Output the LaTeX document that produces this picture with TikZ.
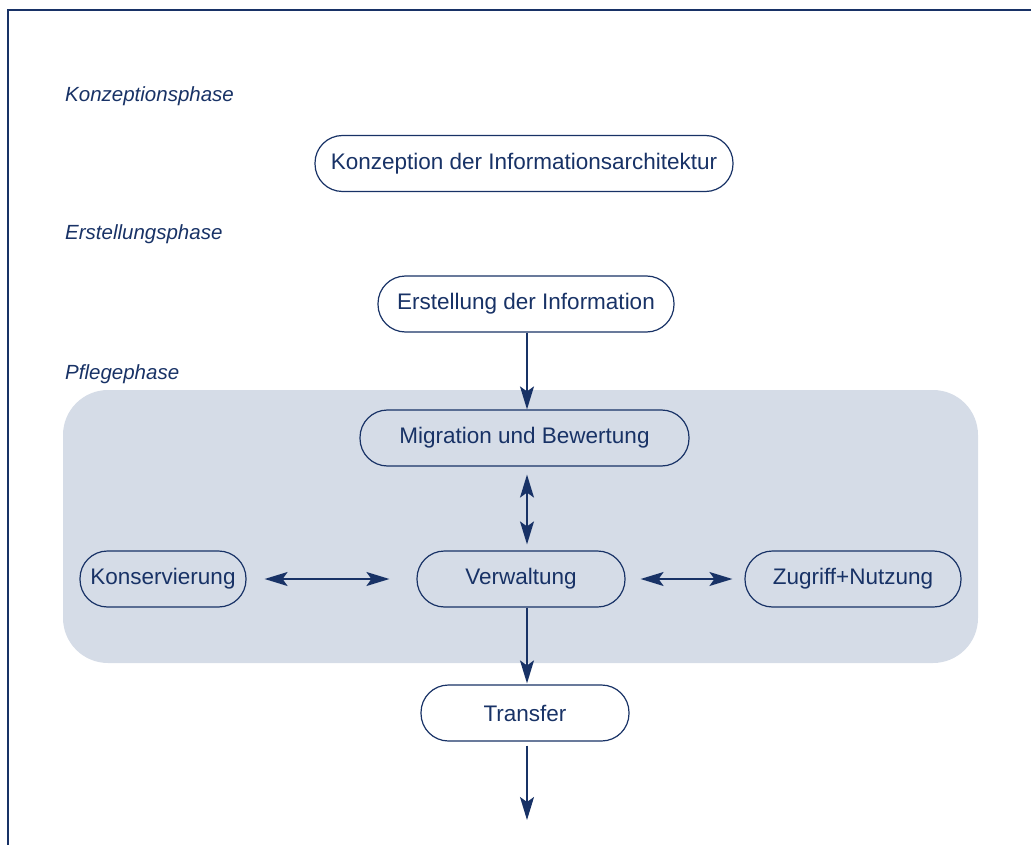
\documentclass[tikz,border=0pt]{standalone}
\usepackage{fontspec}
\setmainfont{Liberation Sans}
\usetikzlibrary{arrows.meta}
\definecolor{navy}{RGB}{24,50,102}
\definecolor{panel}{RGB}{213,220,231}
\tikzset{
  phase/.style={anchor=base west, inner sep=0pt, text=navy, font=\fontsize{20.5}{24}\selectfont\itshape},
  box/.style={draw=navy, line width=1.2pt, rounded corners=27.5pt, minimum height=56pt, inner sep=0pt, text=navy, font=\fontsize{22.5}{26}\selectfont},
  tip/.style={Stealth[length=23pt,width=14pt,inset=5pt]},
  conn/.style={draw=navy, line width=1.5pt, -{Stealth[length=23pt,width=14pt,inset=5pt]}},
  dconn/.style={draw=navy, line width=1.5pt, {Stealth[length=23pt,width=14pt,inset=5pt]}-{Stealth[length=23pt,width=14pt,inset=5pt]}}
}
\begin{document}
\begin{tikzpicture}[x=1pt,y=-1pt]
\useasboundingbox (0,0) rectangle (1031,845);
% frame
\draw[navy, line width=1.5pt] (8,845) -- (8,10) -- (1031,10);
% panel
\fill[panel, rounded corners=45pt] (63,390) rectangle (978,663);
% phase labels
\node[phase] (lk) at (65,102) {Konzeptionsphase};
\node[phase] (le) at (65,240) {Erstellungsphase};
\node[phase] (lp) at (65,379) {Pflegephase};
% boxes
\node[box, minimum width=418pt] (konz) at (524,163.5) {Konzeption der Informationsarchitektur};
\node[box, minimum width=296pt] (erst) at (526,304) {Erstellung der Information};
\node[box, minimum width=329pt] (migr) at (524.5,438) {Migration und Bewertung};
\node[box, minimum width=208pt] (verw) at (521,579) {Verwaltung};
\node[box, minimum width=166pt] (kons) at (163,579) {Konservierung};
\node[box, minimum width=216pt] (zugr) at (853,579) {Zugriff+Nutzung};
\node[box, minimum width=208pt] (trans) at (525,713) {Transfer};
\coordinate (end) at (527,820);
% connectors
\draw[conn] (erst.south -| 527,0) -- (migr.north -| 527,0);
\draw[dconn, shorten <=8pt, shorten >=6pt] (migr.south -| 527,0) -- (verw.north -| 527,0);
\draw[dconn, shorten <=18pt, shorten >=27pt] (kons.east) -- (verw.west);
\draw[dconn, shorten <=15pt, shorten >=12pt] (verw.east) -- (zugr.west);
\draw[conn, shorten >=1pt] (verw.south -| 527,0) -- (trans.north -| 527,0);
\draw[conn, shorten <=4pt] (trans.south -| 527,0) -- (end);
\end{tikzpicture}
\end{document}
